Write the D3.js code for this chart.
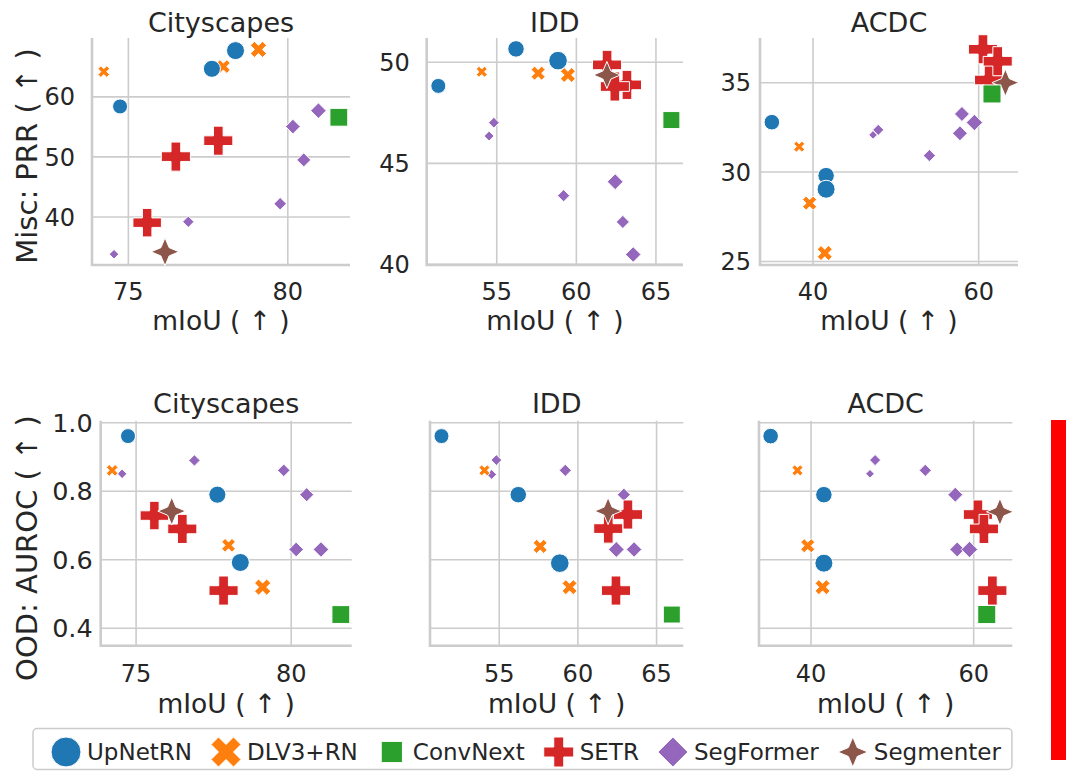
<!DOCTYPE html>
<html>
<head>
<meta charset="utf-8">
<script src="https://cdn.jsdelivr.net/npm/d3@7"></script>
<style>
  body { margin: 0; background: #fff; }
  svg { display: block; font-family: "DejaVu Sans", sans-serif; }
</style>
</head>
<body>
<svg id="fig" width="1066" height="771"></svg>
<script>
// models, in the order they are drawn
var models = ["SegFormer", "DLV3+RN", "UpNetRN", "SETR", "Segmenter", "ConvNext"];
var legendOrder = ["UpNetRN", "DLV3+RN", "ConvNext", "SETR", "SegFormer", "Segmenter"];
var colors = { "UpNetRN": "#1f77b4", "DLV3+RN": "#ff7f0e", "ConvNext": "#2ca02c",
               "SETR": "#d62728", "SegFormer": "#9467bd", "Segmenter": "#8c564b" };
var shapes = { "UpNetRN": "circle", "DLV3+RN": "x", "ConvNext": "square",
               "SETR": "plus", "SegFormer": "diamond", "Segmenter": "star" };

var datasets = ["Cityscapes", "IDD", "ACDC"];

// Cityscapes
var cityMiou = { "UpNetRN": [74.74, 77.62, 78.36], "DLV3+RN": [74.23, 77.98, 79.08], "ConvNext": [81.6],
  "SETR": [75.59, 76.49, 77.82], "SegFormer": [74.55, 76.88, 79.76, 80.16, 80.5, 80.96], "Segmenter": [76.15] };
var cityPrr = { "UpNetRN": [58.4, 64.67, 67.7], "DLV3+RN": [64.2, 65.05, 67.9], "ConvNext": [56.6],
  "SETR": [39.05, 50.05, 52.7], "SegFormer": [33.8, 39.2, 42.2, 55.05, 49.5, 57.7], "Segmenter": [34.2] };
var cityAuroc = { "UpNetRN": [0.961, 0.79, 0.592], "DLV3+RN": [0.861, 0.642, 0.52], "ConvNext": [0.44],
  "SETR": [0.729, 0.69, 0.51], "SegFormer": [0.851, 0.89, 0.861, 0.63, 0.79, 0.63], "Segmenter": [0.742] };
var citySize = { "UpNetRN": [5, 5.7, 6], "DLV3+RN": [3.9, 4.6, 5.4], "ConvNext": [8.4],
  "SETR": [9.5, 9.7, 9.7], "SegFormer": [3.2, 3.8, 4.2, 4.9, 4.7, 5.2], "Segmenter": [9.3] };

// IDD
var iddMiou = { "UpNetRN": [51.33, 56.21, 58.85], "DLV3+RN": [54.06, 57.6, 59.47], "ConvNext": [65.97],
  "SETR": [61.93, 63.18, 62.42], "SegFormer": [54.52, 54.82, 59.2, 62.44, 62.92, 63.57], "Segmenter": [61.92] };
var iddPrr = { "UpNetRN": [48.83, 50.66, 50.08], "DLV3+RN": [49.53, 49.46, 49.37], "ConvNext": [47.14],
  "SETR": [49.87, 48.88, 48.8], "SegFormer": [46.35, 47.01, 43.4, 44.09, 42.1, 40.49], "Segmenter": [49.37] };
var iddAuroc = { "UpNetRN": [0.961, 0.79, 0.59], "DLV3+RN": [0.861, 0.639, 0.52], "ConvNext": [0.44],
  "SETR": [0.691, 0.732, 0.51], "SegFormer": [0.849, 0.891, 0.861, 0.63, 0.79, 0.63], "Segmenter": [0.742] };
var iddSize = { "UpNetRN": [5, 5.5, 6.2], "DLV3+RN": [3.7, 4.7, 5], "ConvNext": [8],
  "SETR": [9.7, 9.7, 9.7], "SegFormer": [3.3, 3.6, 4.1, 5.3, 4.4, 5.2], "Segmenter": [9] };

// ACDC
var acdcMiou = { "UpNetRN": [35.03, 41.58, 41.58], "DLV3+RN": [38.33, 39.59, 41.42], "ConvNext": [61.61],
  "SETR": [60.52, 61.26, 62.3], "SegFormer": [47.25, 47.88, 54.05, 57.74, 57.98, 59.49], "Segmenter": [63.23] };
var acdcPrr = { "UpNetRN": [32.79, 29.8, 29.04], "DLV3+RN": [31.42, 28.26, 25.47], "ConvNext": [34.37],
  "SETR": [36.87, 35.15, 36.2], "SegFormer": [32.08, 32.36, 30.92, 32.17, 33.25, 32.77], "Segmenter": [35.0] };
var acdcAuroc = { "UpNetRN": [0.961, 0.79, 0.59], "DLV3+RN": [0.861, 0.641, 0.52], "ConvNext": [0.44],
  "SETR": [0.732, 0.69, 0.51], "SegFormer": [0.851, 0.891, 0.861, 0.79, 0.63, 0.63], "Segmenter": [0.74] };
var acdcSize = { "UpNetRN": [5.2, 5.5, 6], "DLV3+RN": [3.7, 4.7, 5], "ConvNext": [8.5],
  "SETR": [9.7, 9.7, 9.7], "SegFormer": [2.9, 3.7, 4.1, 5, 5, 5.5], "Segmenter": [9] };

var miouByDs = { "Cityscapes": cityMiou, "IDD": iddMiou, "ACDC": acdcMiou };
var prrByDs = { "Cityscapes": cityPrr, "IDD": iddPrr, "ACDC": acdcPrr };
var aurocByDs = { "Cityscapes": cityAuroc, "IDD": iddAuroc, "ACDC": acdcAuroc };
var sizeByDs = { "Cityscapes": citySize, "IDD": iddSize, "ACDC": acdcSize };

var xDomains = { "Cityscapes": [73.86, 81.95], "IDD": [50.6, 66.7], "ACDC": [33.6, 64.75] };
var xTicks = { "Cityscapes": [75, 80], "IDD": [55, 60, 65], "ACDC": [40, 60] };
var prrDomains = { "Cityscapes": [32, 69.8], "IDD": [39.97, 51.2], "ACDC": [24.8, 37.5] };
var prrTicks = { "Cityscapes": [40, 50, 60], "IDD": [40, 45, 50], "ACDC": [25, 30, 35] };
var aurocDomain = [0.349, 1.006];
var aurocTicks = [0.4, 0.6, 0.8, 1.0];

// layout
var ink = "#262626", gridC = "#cccccc";
var rows = [
  { top: 38, bottom: 265, xs: [[92, 350], [426.7, 683], [760, 1018]], titleY: 32, tickY: 300, labY: 330,
    ylab: "Misc: PRR ( \u2191 )", ylabY: 156, ytickFs: 24, metric: prrByDs },
  { top: 420.7, bottom: 645.7, xs: [[100.7, 351.7], [430, 683.3], [759, 1012.3]], titleY: 413, tickY: 682, labY: 713,
    ylab: "OOD: AUROC ( \u2191 )", ylabY: 548, ytickFs: 25.5, metric: aurocByDs }
];

var svg = d3.select("#fig");
var sizePx = d3.scaleLinear().domain([0, 10]).range([0, 30]);

function markerPath(shape, s) {
  var h = s / 2, p;
  if (shape === "circle") return d3.arc()({ innerRadius: 0, outerRadius: h, startAngle: 0, endAngle: 2 * Math.PI });
  if (shape === "x") p = [[-1,-2],[0,-1],[1,-2],[2,-1],[1,0],[2,1],[1,2],[0,1],[-1,2],[-2,1],[-1,0],[-2,-1]].map(function (d) { return [d[0] * s / 4, d[1] * s / 4]; });
  if (shape === "plus") p = [[-1,-3],[1,-3],[1,-1],[3,-1],[3,1],[1,1],[1,3],[-1,3],[-1,1],[-3,1],[-3,-1],[-1,-1]].map(function (d) { return [d[0] * s / 6, d[1] * s / 6]; });
  if (shape === "square") { var a = s * 0.354; p = [[-a,-a],[a,-a],[a,a],[-a,a]]; }
  if (shape === "diamond") p = [[0,-h],[h,0],[0,h],[-h,0]];
  if (shape === "star") {
    p = [];
    for (var i = 0; i < 8; i++) {
      var r = i % 2 === 0 ? h : h * 0.42, ang = -Math.PI / 2 + i * Math.PI / 4;
      p.push([r * Math.cos(ang), r * Math.sin(ang)]);
    }
  }
  return "M" + p.map(function (d) { return d[0].toFixed(2) + "," + d[1].toFixed(2); }).join("L") + "Z";
}

rows.forEach(function (row, ri) {
  datasets.forEach(function (ds, ci) {
    var x = d3.scaleLinear().domain(xDomains[ds]).range(row.xs[ci]);
    var yDom = ri === 0 ? prrDomains[ds] : aurocDomain;
    var yT = ri === 0 ? prrTicks[ds] : aurocTicks;
    var y = d3.scaleLinear().domain(yDom).range([row.bottom, row.top]);
    var g = svg.append("g");

    // grid
    g.selectAll(".gx").data(xTicks[ds]).enter().append("line")
      .attr("x1", function (d) { return x(d); }).attr("x2", function (d) { return x(d); })
      .attr("y1", row.top).attr("y2", row.bottom)
      .attr("stroke", gridC).attr("stroke-width", 1.6);
    g.selectAll(".gy").data(yT).enter().append("line")
      .attr("x1", row.xs[ci][0]).attr("x2", row.xs[ci][1])
      .attr("y1", function (d) { return y(d); }).attr("y2", function (d) { return y(d); })
      .attr("stroke", gridC).attr("stroke-width", 1.6);

    // spines (left, bottom)
    g.append("path")
      .attr("d", "M" + row.xs[ci][0] + "," + row.top + "V" + row.bottom + "H" + row.xs[ci][1])
      .attr("fill", "none").attr("stroke", gridC).attr("stroke-width", 2.6);

    // x ticks
    g.selectAll(".tx").data(xTicks[ds]).enter().append("text")
      .attr("x", function (d) { return x(d); }).attr("y", row.tickY)
      .attr("text-anchor", "middle").attr("font-size", 24).attr("fill", ink)
      .text(function (d) { return d; });

    // y ticks (bottom row shares y, only first column labelled)
    if (ri === 0 || ci === 0) {
      var fmt = ri === 0 ? d3.format("d") : d3.format(".1f");
      var gap = ri === 0 ? (ci === 2 ? 9 : 17) : 8;
      g.selectAll(".ty").data(yT).enter().append("text")
        .attr("x", row.xs[ci][0] - gap).attr("y", function (d) { return y(d) + row.ytickFs * 0.36; })
        .attr("text-anchor", "end").attr("font-size", row.ytickFs).attr("fill", ink)
        .text(function (d) { return fmt(d); });
    }

    // title and x label
    var cx = (row.xs[ci][0] + row.xs[ci][1]) / 2;
    g.append("text").attr("x", cx).attr("y", row.titleY).attr("text-anchor", "middle")
      .attr("font-size", 27).attr("fill", ink).text(ds);
    g.append("text").attr("x", cx).attr("y", row.labY).attr("text-anchor", "middle")
      .attr("font-size", 26.5).attr("fill", ink).text("mIoU ( \u2191 )");

    // points
    var pts = [];
    models.forEach(function (m) {
      miouByDs[ds][m].forEach(function (v, k) {
        pts.push({ model: m, x: v, y: row.metric[ds][m][k], s: sizeByDs[ds][m][k] });
      });
    });
    g.selectAll(".pt").data(pts).enter().append("path")
      .attr("transform", function (d) { return "translate(" + x(d.x) + "," + y(d.y) + ")"; })
      .attr("d", function (d) { return markerPath(shapes[d.model], sizePx(d.s)); })
      .attr("fill", function (d) { return colors[d.model]; })
      .attr("stroke", "#fff").attr("stroke-width", 1);
  });

  // y label
  svg.append("text")
    .attr("transform", "translate(" + 37 + "," + row.ylabY + ") rotate(-90)")
    .attr("text-anchor", "middle").attr("font-size", 29).attr("fill", ink)
    .text(row.ylab);
});

// legend
var leg = svg.append("g");
var frame = leg.append("rect").attr("x", 33).attr("y", 728.5).attr("height", 41).attr("rx", 4)
  .attr("fill", "#fff").attr("stroke", gridC).attr("stroke-width", 1.5);
var lx = 51, ly = 752;
legendOrder.forEach(function (m) {
  leg.append("path").attr("transform", "translate(" + (lx + 15) + "," + ly + ")")
    .attr("d", markerPath(shapes[m], 30)).attr("fill", colors[m]).attr("stroke", "#fff").attr("stroke-width", 1);
  var t = leg.append("text").attr("x", lx + 36).attr("y", ly + 8.3).attr("font-size", 23).attr("fill", ink).text(m);
  lx = lx + 36 + t.node().getComputedTextLength() + 19;
});
frame.attr("width", lx - 19 + 11 - 33);

// red bar at the right edge
svg.append("rect").attr("x", 1051).attr("y", 420).attr("width", 15).attr("height", 340).attr("fill", "#ff0000");
</script>
</body>
</html>
